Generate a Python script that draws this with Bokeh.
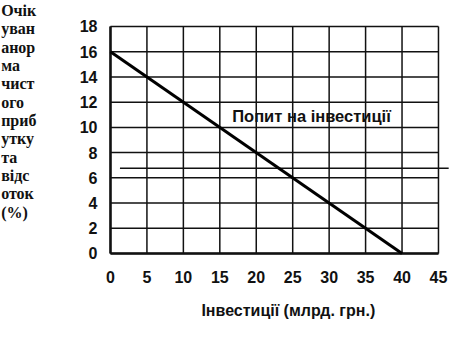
from bokeh.plotting import figure
from bokeh.models import Range1d
from bokeh.core.properties import value
from bokeh.embed import file_html
from bokeh.resources import INLINE

# ---- data ----
x_ticks = [0, 5, 10, 15, 20, 25, 30, 35, 40, 45]
y_ticks = [0, 2, 4, 6, 8, 10, 12, 14, 16, 18]
x_tick_labels = [str(v) for v in x_ticks]
y_tick_labels = [str(v) for v in y_ticks]
demand_x = [0, 40]
demand_y = [16, 0]
rate_x = [1.3, 46.4]
rate_y = [6.75, 6.75]
demand_label = "Попит на інвестиції"
demand_label_pos = (16.7, 10.9)
x_title = "Інвестиції (млрд. грн.)"
y_title_lines = ["Очік", "уван", "анор", "ма", "чист", "ого", "приб", "утку",
                 "та", "відс", "оток", "(%)"]

x_min, x_max = x_ticks[0], x_ticks[-1]
y_min, y_max = y_ticks[0], y_ticks[-1]

# The frame covers the whole canvas so that the titles outside the grid can be
# drawn as text glyphs; axis texts are placed from the tick arrays.
p = figure(width=475, height=342, output_backend="svg", toolbar_location=None,
           x_range=Range1d(-15.09, 50.08), y_range=Range1d(-7.057, 20.06),
           x_axis_location=None, y_axis_location=None, min_border=0)
p.outline_line_color = None
p.grid.visible = False
p.background_fill_color = "white"
p.border_fill_color = "white"

INK = "#111111"
SANS = value("Liberation Sans")
SERIF = value("Liberation Serif")

# grid
p.segment(x0=x_ticks, y0=[y_min] * len(x_ticks), x1=x_ticks, y1=[y_max] * len(x_ticks),
          line_color=INK, line_width=1.5)
p.segment(x0=[x_min] * len(y_ticks), y0=y_ticks, x1=[x_max] * len(y_ticks), y1=y_ticks,
          line_color=INK, line_width=1.5)
# axis lines
p.segment(x0=[x_min, x_min], y0=[y_min, y_min], x1=[x_min, x_max], y1=[y_max, y_min],
          line_color=INK, line_width=2.5)

# rate line
p.line(rate_x, rate_y, line_color=INK, line_width=1.5)
# demand line
p.line(demand_x, demand_y, line_color="#000000", line_width=3)

# tick labels
p.text(x=[x_min - 1.78] * len(y_ticks), y=y_ticks, text=y_tick_labels,
       text_font=SANS, text_font_style="bold", text_font_size="16px",
       text_align="right", text_baseline="middle", text_color=INK)
p.text(x=x_ticks, y=[y_min - 1.9] * len(x_ticks), text=x_tick_labels,
       text_font=SANS, text_font_style="bold", text_font_size="16px",
       text_align="center", text_baseline="middle", text_color=INK)

# x title
p.text(x=[(x_min + x_max) / 2 + 1.9], y=[y_min - 4.52], text=[x_title],
       text_font=SANS, text_font_style="bold", text_font_size="16px",
       text_align="center", text_baseline="middle", text_color=INK)

# y title, wrapped into short lines stacked from the top of the canvas
line_step = 1.455
title_top = y_max + 1.27
n = len(y_title_lines)
p.text(x=[x_min - 15.0] * n, y=[title_top - i * line_step for i in range(n)],
       text=y_title_lines, text_font=SERIF, text_font_style="bold",
       text_font_size="16px", text_align="left", text_baseline="middle",
       text_color=INK)

# curve label
p.text(x=[demand_label_pos[0]], y=[demand_label_pos[1]], text=[demand_label],
       text_font=SANS, text_font_style="bold", text_font_size="16.5px",
       text_align="left", text_baseline="middle", text_color=INK)

open("out.html", "w").write(file_html(p, INLINE))
